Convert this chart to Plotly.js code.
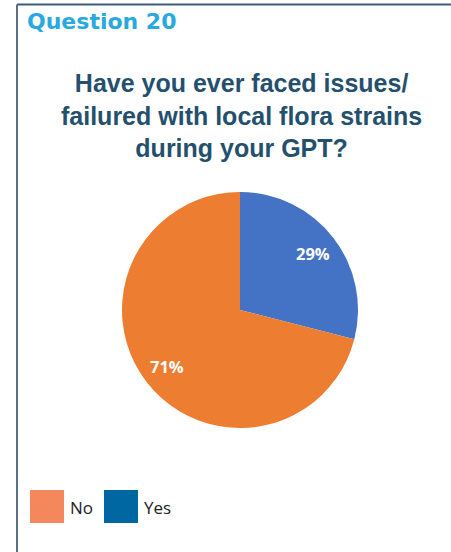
<!DOCTYPE html>
<html>
<head>
<meta charset="utf-8">
<script src="https://cdn.plot.ly/plotly-3.0.1.min.js"></script>
<style>html,body{margin:0;padding:0;background:#fff;}#chart{width:451px;height:552px;}</style>
</head>
<body>
<div id="chart"></div>
<script>
const labels = ["Yes", "No"];
const values = [29, 71];
const pieColors = ["#4472C4", "#ED7D31"];
const legendLabels = ["No", "Yes"];
const legendColors = ["#F4875C", "#0067A3"];
const questionLabel = "Question 20";
const titleText = "Have you ever faced issues/<br>failured with local flora strains<br>during your GPT?";

const W = 451, H = 552;
const px = x => x / W;
const py = y => 1 - y / H;

// pie placement
const cx = 240, cy = 310, R = 118;

const trace = {
  type: "pie",
  labels: labels,
  values: values,
  marker: {colors: pieColors, line: {width: 0}},
  sort: false,
  direction: "clockwise",
  rotation: 0,
  textinfo: "none",
  hoverinfo: "skip",
  domain: {x: [px(cx - R), px(cx + R)], y: [py(cy + R), py(cy - R)]},
  showlegend: false
};

const shapes = [
  {type: "line", xref: "paper", yref: "paper", x0: px(17), x1: 1, y0: py(4.5), y1: py(4.5), line: {color: "#3D5A78", width: 2}},
  {type: "line", xref: "paper", yref: "paper", x0: px(17), x1: px(17), y0: py(4.5), y1: 0, line: {color: "#5C7188", width: 2}}
];
const annotations = [
  {text: "<b>" + questionLabel + "</b>", xref: "paper", yref: "paper", x: px(25), y: py(22), xanchor: "left", yanchor: "middle", showarrow: false,
   font: {family: "DejaVu Sans, sans-serif", size: 22, color: "#29A9E0"}},
  {text: "<b>" + titleText + "</b>", xref: "paper", yref: "paper", x: px(241), y: py(115), xanchor: "center", yanchor: "middle", showarrow: false,
   align: "center", font: {family: "Liberation Sans, Arial, sans-serif", size: 25, color: "#24506E"}}
];

// percentage labels placed at each slice's mid-angle (from data)
const total = values.reduce((a, b) => a + b, 0);
let cum = 0;
values.forEach(v => {
  const mid = (cum + v / 2) / total * 2 * Math.PI;
  cum += v;
  const r = 0.78 * R;
  const x = cx + r * Math.sin(mid), y = cy - r * Math.cos(mid);
  annotations.push({text: "<b>" + Math.round(v / total * 100) + "%</b>", xref: "paper", yref: "paper", x: px(x), y: py(y),
    xanchor: "center", yanchor: "middle", showarrow: false,
    font: {family: "Open Sans, sans-serif", size: 16.5, color: "#ffffff"}});
});

const legX = [30, 104];
legendLabels.forEach((lab, i) => {
  shapes.push({type: "rect", xref: "paper", yref: "paper", x0: px(legX[i]), x1: px(legX[i] + 34), y0: py(523), y1: py(490),
    fillcolor: legendColors[i], line: {width: 0}});
  annotations.push({text: lab, xref: "paper", yref: "paper", x: px(legX[i] + 38), y: py(507), xanchor: "left", yanchor: "middle",
    showarrow: false, font: {family: "Open Sans, sans-serif", size: 17, color: "#222222"}});
});

const layout = {
  width: W, height: H,
  margin: {l: 0, r: 0, t: 0, b: 0},
  paper_bgcolor: "#ffffff",
  showlegend: false,
  shapes: shapes,
  annotations: annotations
};
Plotly.newPlot("chart", [trace], layout, {displayModeBar: false, staticPlot: true});
</script>
</body>
</html>
